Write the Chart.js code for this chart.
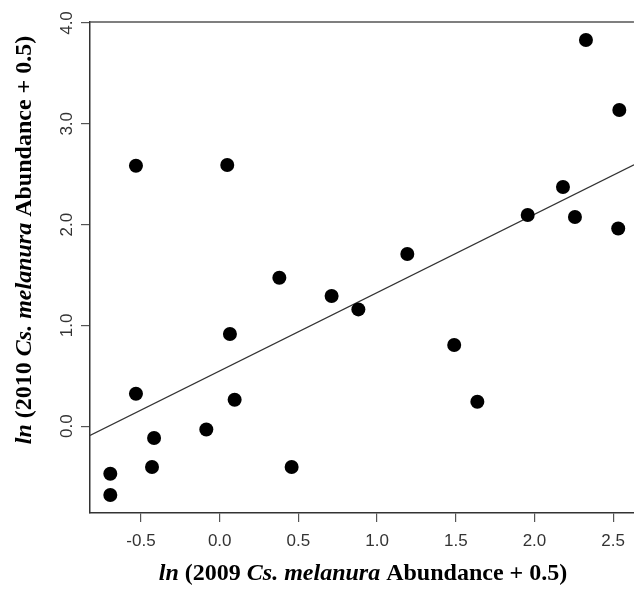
<!DOCTYPE html>
<html>
<head>
<meta charset="utf-8">
<script src="https://cdn.jsdelivr.net/npm/chart.js@4"></script>
<style>
  body { margin: 0; background: #fff; }
  canvas { display: block; }
</style>
</head>
<body>
<canvas id="chart" width="634" height="589"></canvas>
<script>
// ln(2009 abundance + 0.5) x ln(2010 abundance + 0.5)
const x2009 = [-0.532, 0.048, 2.327, 2.539, 2.181, 1.957, 2.257, 2.532, 1.192,
               0.379, 0.711, 0.881, 0.065, -0.532, 0.095, -0.085, -0.417, -0.430,
               0.457, -0.695, -0.695, 1.490, 1.637];
const y2010 = [2.584, 2.591, 3.831, 3.137, 2.373, 2.095, 2.075, 1.962, 1.708,
               1.473, 1.292, 1.159, 0.915, 0.322, 0.263, -0.032, -0.117, -0.405,
               -0.405, -0.471, -0.683, 0.805, 0.243];

const fitX = [-0.824, 2.632];
const fitY = [-0.091, 2.594];

// marcas dos eixos
const xTicks = [-0.5, 0.0, 0.5, 1.0, 1.5, 2.0, 2.5];
const yTicks = [0.0, 1.0, 2.0, 3.0, 4.0];

// títulos com partes em itálico
const xTitle = [["ln", true], [" (2009 ", false], ["Cs. melanura", true], [" Abundance + 0.5)", false]];
const yTitle = [["ln", true], [" (2010 ", false], ["Cs. melanura", true], [" Abundance + 0.5)", false]];

const TITLE_SIZE = 24;

function drawRichText(ctx, parts, cx, cy, angle) {
    const fontFor = (italic) => (italic ? "italic " : "") + "bold " + TITLE_SIZE + "px 'Liberation Serif', 'Times New Roman', serif";
    let total = 0;
    parts.forEach(([txt, it]) => { ctx.font = fontFor(it); total += ctx.measureText(txt).width; });
    ctx.save();
    ctx.translate(cx, cy);
    ctx.rotate(angle);
    ctx.fillStyle = "#000";
    ctx.textBaseline = "middle";
    ctx.textAlign = "left";
    let pos = -total / 2;
    parts.forEach(([txt, it]) => {
        ctx.font = fontFor(it);
        ctx.fillText(txt, pos, 0);
        pos += ctx.measureText(txt).width;
    });
    ctx.restore();
}

// borda de cima + títulos dos eixos
const extras = {
    id: "extras",
    afterDraw(chart) {
        const { ctx, chartArea } = chart;
        ctx.save();
        ctx.strokeStyle = "#555";
        ctx.lineWidth = 1.5;
        ctx.beginPath();
        ctx.moveTo(chartArea.left, chartArea.top);
        ctx.lineTo(chartArea.right, chartArea.top);
        ctx.stroke();
        ctx.restore();
        drawRichText(ctx, xTitle, 363, 574, 0);
        drawRichText(ctx, yTitle, 25, 240, -Math.PI / 2);
    }
};

const points = x2009.map((x, i) => ({ x: x, y: y2010[i] }));
const fitLine = fitX.map((x, i) => ({ x: x, y: fitY[i] }));

const ctx = document.getElementById("chart").getContext("2d");
new Chart(ctx, {
    type: "scatter",
    data: {
        datasets: [
            {
                data: points,
                backgroundColor: "#000",
                borderWidth: 0,
                pointRadius: 7,
                pointHoverRadius: 7
            },
            {
                type: "line",
                data: fitLine,
                borderColor: "#333",
                borderWidth: 1.2,
                pointRadius: 0,
                fill: false
            }
        ]
    },
    options: {
        responsive: false,
        animation: false,
        layout: { autoPadding: false, padding: { top: 22, left: 0, right: 0, bottom: 0 } },
        plugins: {
            legend: { display: false },
            tooltip: { enabled: false }
        },
        scales: {
            x: {
                type: "linear",
                min: -0.824,
                max: 2.632,
                afterBuildTicks: (scale) => { scale.ticks = xTicks.map(v => ({ value: v })); },
                afterFit: (scale) => { scale.height = 76; },
                grid: { drawOnChartArea: false, drawTicks: true, tickLength: 9, color: "#555", lineWidth: 1.2 },
                border: { display: true, color: "#333", width: 1.5 },
                ticks: {
                    color: "#333",
                    padding: 9,
                    font: { family: "'Liberation Sans', Arial, sans-serif", size: 17 },
                    maxRotation: 0,
                    callback: (v) => v.toFixed(1)
                }
            },
            y: {
                type: "linear",
                min: -0.861,
                max: 4.01,
                afterBuildTicks: (scale) => { scale.ticks = yTicks.map(v => ({ value: v })); },
                afterFit: (scale) => { scale.width = 90; },
                grid: { drawOnChartArea: false, drawTicks: true, tickLength: 9, color: "#555", lineWidth: 1.2 },
                border: { display: true, color: "#333", width: 1.5 },
                ticks: {
                    color: "#333",
                    padding: 2,
                    crossAlign: "center",
                    minRotation: 90,
                    maxRotation: 90,
                    font: { family: "'Liberation Sans', Arial, sans-serif", size: 17 },
                    callback: (v) => v.toFixed(1)
                }
            }
        }
    },
    plugins: [extras]
});
</script>
</body>
</html>
